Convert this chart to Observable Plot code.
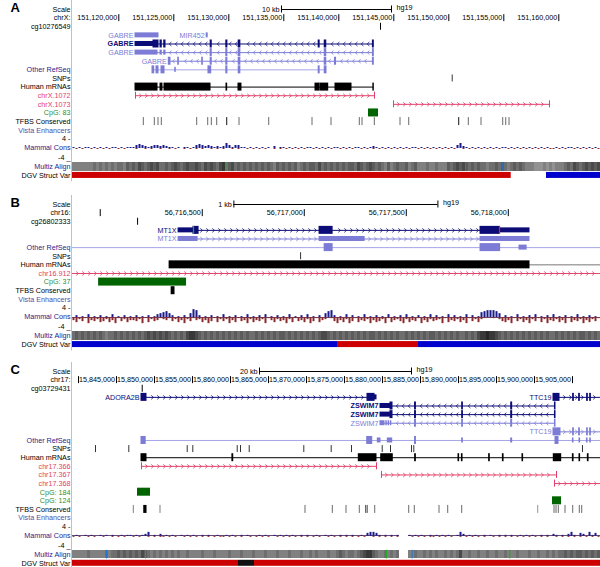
<!DOCTYPE html>
<html><head><meta charset="utf-8">
<script src="https://cdn.jsdelivr.net/npm/d3@7"></script>
<script src="https://cdn.jsdelivr.net/npm/@observablehq/plot@0.6"></script>
<style>
body{margin:0;background:#fff;}
#chart{width:600px;height:567px;overflow:hidden;}
#chart svg{display:block;}
</style></head><body><div id="chart"></div>
<script>
// ===================== DATA =====================
// Positions are base pairs measured from each panel's origin coordinate.

// ---------- Panel A : chrX (origin 151,120,000) ----------
const aLetter = "A";
const aDomain = [-4210, 43790];
const aScaleBar = [14790, 24790];
const aScaleLabel = "10 kb";
const aTicks = [0, 5000, 10000, 15000, 20000, 25000, 30000, 35000, 40000];
const aTickLabels = ["151,120,000","151,125,000","151,130,000","151,135,000","151,140,000","151,145,000","151,150,000","151,155,000","151,160,000"];
const aRows = ["scale","ruler","probe","g1","g2","g3","g4","other","snp","mrna","r1","r2","cpg1","tfbs","vista","cons","multiz","dgv"];
const aRowLabels = ["Scale","chrX:","cg10276549","","","","","Other RefSeq","SNPs","Human mRNAs","chrX.1072","chrX.1073","CpG: 83","TFBS Conserved","Vista Enhancers","Mammal Cons","Multiz Align","DGV Struct Var"];
const aProbe = [23790];
const aTx = [
  {row:"g1", name:"GABRE", kind:"light", start:1518, end:3609, blocks:[[1518,3609,"u"]]},
  {row:"g1", name:"MIR452", kind:"light", start:7990, end:8080, blocks:[[7990,8080,"u"]]},
  {row:"g2", name:"GABRE", kind:"navy", bold:true, strand:"-", start:1518, end:23182, blocks:[[1518,3154,"u"],[3154,3609,"c"],[3791,3909,"c"],[4127,4245,"c"],[8350,8450,"c"],[9770,9870,"c"],[10900,11050,"c"],[18170,18260,"c"],[18720,18860,"c"],[23100,23182,"c"]]},
  {row:"g3", name:"GABRE", kind:"light", strand:"-", start:1518, end:23182, blocks:[[1518,3518,"u"],[3791,3909,"u"],[4127,4245,"u"],[8350,8450,"c"],[9770,9870,"c"],[10900,11050,"c"],[18720,18860,"c"],[23100,23182,"c"]]},
  {row:"g4", name:"GABRE", kind:"light", strand:"-", start:4545, end:23182, blocks:[[4545,4700,"c"],[5400,5460,"c"],[7580,7640,"c"],[8350,8450,"c"],[9770,9870,"c"],[10900,11050,"c"],[18720,18860,"c"],[19650,19750,"c"],[23100,23182,"c"]]},
  {row:"other", kind:"light", plain:true, start:3064, end:18882, blocks:[[3064,3218,"c"],[3427,3609,"c"],[3882,4155,"c"],[5130,5180,"u"],[8150,8400,"c"],[9770,9870,"c"],[10900,11050,"c"],[18170,18260,"c"],[18720,18882,"c"]]},
  {row:"mrna", kind:"black", start:1518, end:23182, blocks:[[1518,3518,"c"],[3791,3970,"c"],[4155,8336,"c"],[9790,9850,"c"],[10880,11150,"c"],[17881,18245,"c"],[18336,19036,"c"],[19700,21154,"c"],[23140,23182,"c"]]},
  {row:"r1", kind:"red", strand:"+", ends:"both", start:1518, end:23245, blocks:[]},
  {row:"r2", kind:"red", strand:"+", ends:"both", start:24973, end:39155, blocks:[]}
];
const aCodons = [];
const aSnps = [30309];
const aCpg = [{row:"cpg1", s:22700, e:23609}];
const aTfbs = [[2273,2273,500],[3273,3273,500],[3609,3609,500],[3909,3909,500],[7127,7127,500],[8127,8127,500],[8455,8455,500],[8945,8945,500],[9855,9855,900],[10973,10973,500],[13673,13673,500],[17609,17609,500],[19336,19336,500],[21909,21909,500],[22155,22155,500],[23273,23273,500],[25609,25609,500],[26400,26400,500],[30945,30945,900],[31818,31818,500],[32973,32973,500],[34945,34945,500],[35218,35218,500],[35518,35518,500]];
// conservation per 3-pixel bin, one digit = 0.4 score units ("." = no data)
const aConsPos = ["1010110101","0101101011","1343212332","3211010110","1343232121","2531331101","0101010201","1010101011","0101010110","1010110101","2101010101","0101101010","1010101035","2101010101","0101101010","1010101010","0101011010","101010"].join("");
const aConsNeg = ["0101001010","1010010100","0100101001","0010100101","0101001010","1001010010","1010100101","0101010100","1010101001","0101001010","1010101010","1010010101","0101010100","1010101010","1010010101","0101010101","1010100101","010101"].join("");
// multiz alignment density per 3-pixel bin (0 light .. 9 dark)
const aMultiz = ["4444444545","4545455465","6576567675","5656765676","6765767657","8567565656","5656565465","6565645656","6575656565","6566576567","6565464565","5645644454","4544465676","7656565545","5656545656","5444333434","3444565765","676767"].join("");
const aMultizMarks = [{p:9855, c:"green"},{p:31518, c:"blue"},{p:34909, c:"blue"}];
const aDgv = [{s:-4210, e:35673, type:"loss"},{s:38882, e:43790, type:"gain"}];

// ---------- Panel B : chr16 (origin 56,716,000) ----------
const bLetter = "B";
const bDomain = [-136, 2452];
const bScaleBar = [655, 1655];
const bScaleLabel = "1 kb";
const bTicks = [0, 500, 1000, 1500, 2000];
const bTickLabels = ["","56,716,500","56,717,000","56,717,500","56,718,000"];
const bRows = ["scale","ruler","probe","g1","g2","other","snp","mrna","r1","cpg1","tfbs","vista","cons","multiz","dgv"];
const bRowLabels = ["Scale","chr16:","cg26802333","","","Other RefSeq","SNPs","Human mRNAs","chr16.912","CpG: 37","TFBS Conserved","Vista Enhancers","Mammal Cons","Multiz Align","DGV Struct Var"];
const bProbe = [183];
const bTx = [
  {row:"g1", name:"MT1X", kind:"navy", strand:"+", start:384, end:2104, blocks:[[384,457,"u"],[457,482,"c"],[1075,1139,"c"],[1864,1957,"c"],[1957,2104,"u"]]},
  {row:"g2", name:"MT1X", kind:"light", strand:"+", start:384, end:2104, blocks:[[384,477,"u"],[1075,1296,"u"],[1864,2104,"u"]]},
  {row:"other", kind:"light", plain:true, start:-136, end:2452, blocks:[[1100,1139,"c"],[1864,1960,"c"],[2055,2090,"u"]]},
  {row:"mrna", kind:"black", start:340, end:2104, blocks:[[340,2104,"c"]]},
  {row:"mrna", kind:"grey", plain:true, start:2104, end:2452, blocks:[]},
  {row:"r1", kind:"red", strand:"+", start:-136, end:2452, blocks:[]}
];
const bCodons = [{row:"g1", p:457, type:"start"},{row:"g1", p:1957, type:"stop"}];
const bSnps = [982];
const bCpg = [{row:"cpg1", s:-8, e:423}];
const bTfbs = [[350,364,1000]];
const bConsPos = ["0201030102","0103010201","0201020134","5642010204","8720102010","3010201030","1020301020","1030102030","1020467201","0302010301","0201030102","0301020103","0201030201","0302015677","7640201030","1020301020","3010201030","102010"].join("");
const bConsNeg = ["3524163425","4253614253","3426152431","2314253624","1325364152","4263514362","5342613524","3625143526","4153201463","5264153426","3542615324","6253416352","4326153425","3614252100","1024536142","5362415263","4253615342","635241"].join("");
const bMultiz = ["5656565656","5455656565","6565676767","6765656578","8765656565","6565656565","5656565656","6565656565","6567765656","5656565656","6565656565","5656565656","6565656565","5656578898","8765656565","6565656565","5656565656","656565"].join("");
const bMultizMarks = [];
const bDgv = [{s:-136, e:1163, type:"gain"},{s:1163, e:1560, type:"loss"},{s:1560, e:2452, type:"gain"}];

// ---------- Panel C : chr17 (origin 15,845,000) ----------
const cLetter = "C";
const cDomain = [-5790, 63684];
const cScaleBar = [18816, 38816];
const cScaleLabel = "20 kb";
const cTicks = [-5000,0,5000,10000,15000,20000,25000,30000,35000,40000,45000,50000,55000,60000];
const cTickLabels = ["","15,845,000","15,850,000","15,855,000","15,860,000","15,865,000","15,870,000","15,875,000","15,880,000","15,885,000","15,890,000","15,895,000","15,900,000","15,905,000"];
const cRows = ["scale","ruler","probe","g1","g2","g3","g4","g5","other","snp","mrna","r1","r2","r3","cpg1","cpg2","tfbs","vista","cons","multiz","dgv"];
const cRowLabels = ["Scale","chr17:","cg03729431","","","","","","Other RefSeq","SNPs","Human mRNAs","chr17.366","chr17.367","chr17.368","CpG: 184","CpG: 124","TFBS Conserved","Vista Enhancers","Mammal Cons","Multiz Align","DGV Struct Var"];
const cProbe = [3382];
const cTx = [
  {row:"g1", name:"ADORA2B", kind:"navy", strand:"+", start:3290, end:34211, blocks:[[3290,3947,"c"],[33026,33950,"c"],[33950,34211,"u"]]},
  {row:"g1", name:"TTC19", kind:"navy", strand:"+", start:57500, end:63684, blocks:[[57500,58290,"c"],[60080,60180,"c"],[60870,60970,"c"],[61920,62020,"c"],[62320,62420,"c"]]},
  {row:"g2", name:"ZSWIM7", kind:"navy", bold:true, strand:"-", start:34737, end:57763, blocks:[[34737,36050,"u"],[36050,36316,"c"],[39280,39400,"c"],[45480,45580,"c"],[51930,52060,"c"],[57690,57763,"c"]]},
  {row:"g3", name:"ZSWIM7", kind:"navy", bold:true, strand:"-", start:34737, end:57763, blocks:[[34737,36050,"u"],[36050,36316,"c"],[39280,39400,"c"],[45480,45580,"c"],[51930,52060,"c"],[57690,57763,"c"]]},
  {row:"g4", name:"ZSWIM7", kind:"light", strand:"-", start:34737, end:57763, blocks:[[34737,35263,"u"],[35500,35560,"u"],[35800,35860,"u"],[36100,36160,"u"],[39280,39400,"c"],[45480,45580,"c"],[51930,52060,"c"],[57690,57763,"c"]]},
  {row:"g5", name:"TTC19", kind:"light", strand:"+", start:57500, end:63684, blocks:[[57500,58421,"c"],[60080,60180,"c"],[60870,60970,"c"],[61920,62020,"c"],[62320,62420,"c"]]},
  {row:"other", kind:"light", plain:true, start:3290, end:63684, blocks:[[3290,3840,"c"],[32986,33645,"c"],[34381,34737,"u"],[35697,36276,"u"],[39280,39400,"c"],[45480,45580,"u"],[51930,52060,"u"],[57763,58158,"c"],[60050,60130,"u"],[60920,61000,"u"],[61900,61980,"u"],[62330,62410,"u"]]},
  {row:"mrna", kind:"black", start:3290, end:63684, blocks:[[3290,3947,"c"],[15250,15360,"c"],[31882,34211,"c"],[34829,36355,"c"],[39290,39390,"c"],[45000,45080,"c"],[45450,45530,"c"],[49030,49120,"c"],[50840,50930,"c"],[53420,53500,"c"],[57539,58513,"c"],[60050,60140,"c"],[60920,61000,"c"],[62020,62110,"c"]]},
  {row:"r1", kind:"red", strand:"+", ends:"both", start:3290, end:34211, blocks:[]},
  {row:"r2", kind:"red", strand:"+", ends:"both", start:34868, end:57895, blocks:[]},
  {row:"r3", kind:"red", strand:"+", ends:"start", start:57632, end:63684, blocks:[]}
];
const cCodons = [];
const cSnps = [-2763,1618,9303,10039,15882,16316,17461,24645,28250,30921,34961,36053,38816,39118,61316];
const cCpg = [{row:"cpg1", s:2763, e:4474},{row:"cpg2", s:57368, e:58553}];
const cTfbs = [[2276,2276,400],[3650,3950,1000],[5789,5789,400],[24868,24868,500],[28461,28461,500],[30263,30263,500],[32013,32013,500],[32850,32850,650],[33050,33050,650],[34040,34040,500],[38513,38513,500],[39250,39250,500],[42500,42500,500],[43645,43645,500],[45487,45487,500],[55487,55487,300],[57632,57632,500],[57895,57895,500],[58197,58197,500],[59079,59079,500],[60092,60092,500],[60960,60960,500],[61276,61276,500]];
const cConsPos = ["0100101001","0101001011","0101240102","0101001010","1001010010","0101001010","0010100101","0101001010","0100101001","0101001034","431010101.","..10101001","0101010014","2010100101","0010101001","0101001010","2101024103","204130"].join("");
const cConsNeg = ["1010010100","1001010100","1010010101","1010100101","0101010101","1010101001","0101010010","1010101010","1010010101","0101010100","101010101.","..01010101","1010101001","0101010100","1010101010","1010101010","0101010101","010101"].join("");
const cMultiz = ["4444454444","4545565656","5657654545","4545454454","4445444544","4454445444","5444544454","4454445445","4544454456","5455456788","654454545.","..44544545","4544545457","4454454454","4544544454","4454454454","5455656566","565656"].join("");
const cMultizMarks = [{p:-1316, c:"blue"},{p:3816, c:"green"},{p:35526, c:"green"},{p:38908, c:"blue"},{p:51750, c:"green"}];
const cDgv = [{s:-5790, e:16053, type:"loss"},{s:16053, e:18158, type:"both"},{s:18158, e:63684, type:"loss"}];

// ===================== RENDERING =====================
const FONT = "'Liberation Sans', Arial, Helvetica, sans-serif";
const KIND = {navy:"#0c0c78", light:"#7c7cd6", black:"#000000", red:"#e2406a", grey:"#777777"};
const LABEL = {navy:"#1e1e8a", vista:"#5050aa", red:"#e2406a", green:"#2f8f2f", black:"#000000"};
const DGV = {loss:"#cc0000", gain:"#0000cc", both:"#111111"};
const chevR = {draw(c){ c.moveTo(-1.1,-2); c.lineTo(1.1,0); c.lineTo(-1.1,2); }};
const chevL = {draw(c){ c.moveTo(1.1,-2); c.lineTo(-1.1,0); c.lineTo(1.1,2); }};

function layout(rows) {
  const Y = {}, T = {};
  let t = 4.7;
  for (const id of rows) {
    const h = id === "cons" ? 28 : 8.62;
    T[id] = [t, t + h]; Y[id] = t + h / 2; t += h;
  }
  return {Y, T};
}
function labelColor(id) {
  if (id === "other" || id === "cons" || id === "multiz") return LABEL.navy;
  if (id === "vista") return LABEL.vista;
  if (/^r\d/.test(id)) return LABEL.red;
  if (/^cpg/.test(id)) return LABEL.green;
  return LABEL.black;
}

function drawPanel(P) {
  const [d0, d1] = P.domain;
  const ppb = 528 / (d1 - d0);
  const {Y, T} = layout(P.rows);
  const txt = {fontSize: 7.2, fontFamily: FONT};
  const marks = [];
  const k = () => d0;

  // left border line
  marks.push(Plot.ruleX([d0], {y1: () => 0, y2: () => T.dgv[1] + 2, stroke: "#f5a9b8", dx: -1}));
  // panel letter
  marks.push(Plot.text([P.letter], {x: k, y: () => Y.scale - 2, text: d => d, dx: -62, textAnchor: "start", fontSize: 13, fontWeight: "bold", fontFamily: FONT, fill: "#000"}));
  // track labels
  const lab = P.rows.map((id, i) => ({id, text: P.rowLabels[i]})).filter(d => d.text);
  marks.push(Plot.text(lab, {x: k, y: d => d.id === "cons" ? Y.cons - 1 : Y[d.id], text: "text", fill: d => labelColor(d.id), textAnchor: "end", dx: -2, ...txt}));
  marks.push(Plot.text(["4 -", "-4 _"], {x: k, y: (d, i) => i ? T.cons[1] - 4.5 : T.cons[0] + 4.5, text: d => d, textAnchor: "end", dx: -2, fill: "#000", ...txt}));

  // scale bar
  const [s0, s1] = P.scaleBar;
  marks.push(Plot.ruleY([Y.scale], {y: d => d, x1: () => s0, x2: () => s1, stroke: "#000"}));
  marks.push(Plot.ruleX(P.scaleBar, {x: d => d, y1: () => Y.scale - 3.5, y2: () => Y.scale + 3.5, stroke: "#000"}));
  marks.push(Plot.text([P.scaleLabel], {x: () => s0, y: () => Y.scale, text: d => d, textAnchor: "end", dx: -2, fill: "#000", ...txt}));
  marks.push(Plot.text(["hg19"], {x: () => s1, y: () => Y.scale - 1.5, text: d => d, textAnchor: "start", dx: 5, fill: "#000", ...txt}));

  // ruler
  marks.push(Plot.ruleX(P.ticks, {x: d => d, y1: () => Y.ruler - 3.5, y2: () => Y.ruler + 3.5, stroke: "#000"}));
  marks.push(Plot.text(P.ticks, {x: d => d, y: () => Y.ruler, text: (d, i) => P.tickLabels[i], textAnchor: "end", dx: -1.5, fill: "#000", ...txt}));

  // methylation probe
  marks.push(Plot.ruleX(P.probe, {x: d => d, y1: () => Y.probe - 3.5, y2: () => Y.probe + 3.5, stroke: "#000"}));

  // transcripts: lines
  const lineColor = d => d.plain && d.kind === "light" ? "#a6a6e8" : KIND[d.kind];
  marks.push(Plot.ruleY(P.tx.filter(t => t.end > t.start), {y: d => Y[d.row], x1: "start", x2: "end", stroke: lineColor, strokeWidth: 1}));
  // chevrons
  const step = 6 / ppb;
  const chev = [];
  for (const t of P.tx) {
    if (!t.strand) continue;
    for (let p = t.start + step * 0.8; p < t.end - step * 0.4; p += step) {
      if (t.blocks.some(([a, b]) => p > a - 2 / ppb && p < b + 2 / ppb)) continue;
      chev.push({p, row: t.row, kind: t.kind, strand: t.strand});
    }
  }
  for (const [strand, sym] of [["+", chevR], ["-", chevL]]) {
    marks.push(Plot.dot(chev.filter(c => c.strand === strand), {x: "p", y: d => Y[d.row], symbol: sym, r: 2, fill: "none", stroke: d => KIND[d.kind], strokeWidth: 0.8}));
  }
  // exon blocks
  const blocks = P.tx.flatMap(t => t.blocks.map(([s, e, kk]) => ({s, e, h: kk === "u" ? 5 : 8, row: t.row, kind: t.kind})));
  marks.push(Plot.rect(blocks, {x1: "s", x2: "e", y1: d => Y[d.row] - d.h / 2, y2: d => Y[d.row] + d.h / 2, fill: d => KIND[d.kind], insetLeft: -0.5, insetRight: -0.5}));
  // end ticks
  const ends = P.tx.filter(t => t.ends).flatMap(t => t.ends === "start" ? [{p: t.start, t}] : [{p: t.start, t}, {p: t.end, t}]);
  marks.push(Plot.ruleX(ends, {x: "p", y1: d => Y[d.t.row] - 3.5, y2: d => Y[d.t.row] + 3.5, stroke: d => KIND[d.t.kind]}));
  // codon marks
  marks.push(Plot.ruleX(P.codons, {x: "p", y1: d => Y[d.row] - 4, y2: d => Y[d.row] + 4, stroke: d => d.type === "start" ? "#22aa22" : "#dd2222", strokeWidth: 1.2}));
  // gene labels
  for (const bold of [false, true]) {
    marks.push(Plot.text(P.tx.filter(t => t.name && !!t.bold === bold), {x: "start", y: d => Y[d.row], text: "name", textAnchor: "end", dx: -2, fill: d => KIND[d.kind], fontWeight: bold ? "bold" : "normal", ...txt}));
  }

  // SNPs
  marks.push(Plot.ruleX(P.snps, {x: d => d, y1: () => Y.snp - 3.5, y2: () => Y.snp + 3.5, stroke: "#333"}));
  // CpG islands
  marks.push(Plot.rect(P.cpg, {x1: "s", x2: "e", y1: d => Y[d.row] - 4, y2: d => Y[d.row] + 4, fill: "#006400"}));
  // TFBS conserved
  const tfGrey = d3.interpolateRgb("#d4d4d4", "#000");
  marks.push(Plot.rect(P.tfbs, {x1: d => d[0], x2: d => d[1], y1: () => Y.tfbs - 4, y2: () => Y.tfbs + 4, fill: d => tfGrey(d[2] / 1000), insetLeft: -0.5, insetRight: -0.5}));

  // Mammal conservation
  const binBp = 3 / ppb;
  const cons = [...P.consPos].slice(0, 176).map((ch, i) => ({ch, s: d0 + i * binBp, e: d0 + (i + 1) * binBp}));
  // thin baseline where data exist
  marks.push(Plot.rect(cons.filter(d => d.ch !== "."), {x1: "s", x2: "e", y1: () => Y.cons - 0.4, y2: () => Y.cons + 0.4, fill: "#6a4a72", shapeRendering: "crispEdges"}));
  const bars = [];
  const parse = (str, sign) => [...str].forEach((ch, i) => {
    if (ch === "." || ch === "0" || i >= 176) return;
    bars.push({s: d0 + i * binBp, e: d0 + (i + 1) * binBp, v: sign * (+ch) * 0.4});
  });
  parse(P.consPos, 1); parse(P.consNeg, -1);
  const pxPerUnit = (28 / 2 - 4) / 4;
  marks.push(Plot.rect(bars, {x1: "s", x2: "e", y1: () => Y.cons, y2: d => Y.cons - d.v * pxPerUnit, fill: d => d.v > 0 ? "#1b1b8a" : "#8b2a2a", insetLeft: 0.5, insetRight: 0.5}));

  // Multiz alignment
  const mz = [...P.multiz].slice(0, 176).map((ch, i) => ({ch, s: d0 + i * binBp, e: d0 + (i + 1) * binBp})).filter(d => d.ch !== ".");
  marks.push(Plot.rect(mz, {x1: "s", x2: "e", y1: () => Y.multiz - 4.3, y2: () => Y.multiz + 4.3, fill: d => { const g = 200 - (+d.ch) * 18; return `rgb(${g},${g},${g})`; }, shapeRendering: "crispEdges"}));
  marks.push(Plot.ruleX(P.multizMarks, {x: "p", y1: () => Y.multiz - 4.3, y2: () => Y.multiz + 4.3, stroke: d => d.c === "green" ? "#22aa22" : "#2277cc"}));

  // DGV structural variation
  marks.push(Plot.rect(P.dgv, {x1: "s", x2: "e", y1: () => Y.dgv - 3, y2: () => Y.dgv + 3, fill: d => DGV[d.type]}));

  return Plot.plot({
    width: 600, height: P.height, margin: 0,
    x: {type: "linear", domain: P.domain, range: [72, 600], axis: null},
    y: {type: "linear", domain: [0, P.height], range: [0, P.height], axis: null},
    color: {type: "identity"},
    style: {fontFamily: FONT, background: "#fff"},
    marks
  });
}

const panels = [
  {letter: aLetter, height: 195, domain: aDomain, scaleBar: aScaleBar, scaleLabel: aScaleLabel, ticks: aTicks, tickLabels: aTickLabels, rows: aRows, rowLabels: aRowLabels, probe: aProbe, tx: aTx, codons: aCodons, snps: aSnps, cpg: aCpg, tfbs: aTfbs, consPos: aConsPos, consNeg: aConsNeg, multiz: aMultiz, multizMarks: aMultizMarks, dgv: aDgv},
  {letter: bLetter, height: 167, domain: bDomain, scaleBar: bScaleBar, scaleLabel: bScaleLabel, ticks: bTicks, tickLabels: bTickLabels, rows: bRows, rowLabels: bRowLabels, probe: bProbe, tx: bTx, codons: bCodons, snps: bSnps, cpg: bCpg, tfbs: bTfbs, consPos: bConsPos, consNeg: bConsNeg, multiz: bMultiz, multizMarks: bMultizMarks, dgv: bDgv},
  {letter: cLetter, height: 205, domain: cDomain, scaleBar: cScaleBar, scaleLabel: cScaleLabel, ticks: cTicks, tickLabels: cTickLabels, rows: cRows, rowLabels: cRowLabels, probe: cProbe, tx: cTx, codons: cCodons, snps: cSnps, cpg: cCpg, tfbs: cTfbs, consPos: cConsPos, consNeg: cConsNeg, multiz: cMultiz, multizMarks: cMultizMarks, dgv: cDgv}
];
const root = document.getElementById("chart");
for (const P of panels) root.append(drawPanel(P));
</script></body></html>
